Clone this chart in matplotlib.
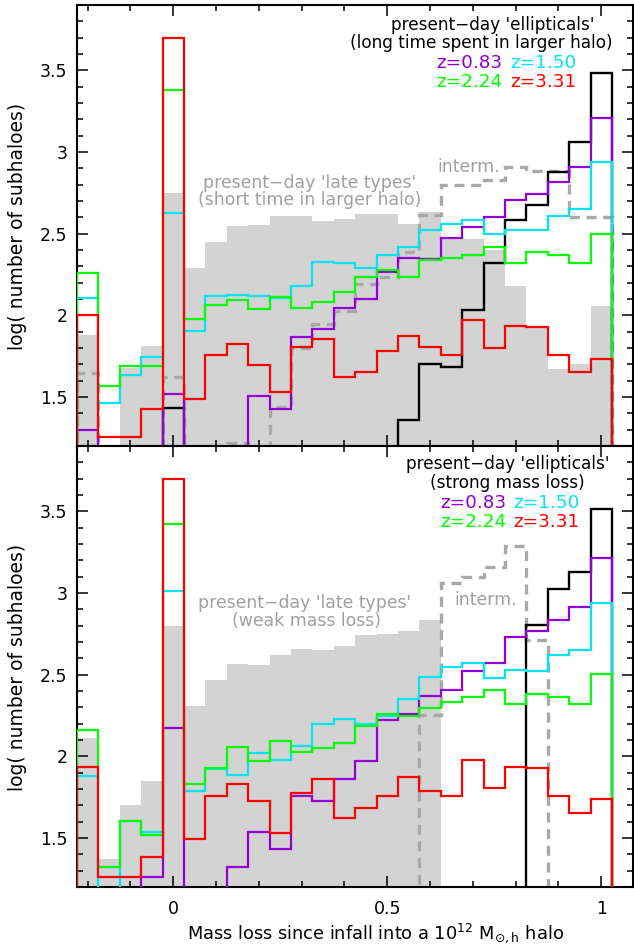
import numpy as np
import matplotlib
matplotlib.use("Agg")
import matplotlib.pyplot as plt
from matplotlib.ticker import MultipleLocator

# ---------------- data (log number of subhaloes per mass-loss bin) ----------------
bin_centers = [-0.20, -0.15, -0.10, -0.05, 0.00, 0.05, 0.10, 0.15, 0.20, 0.25,
               0.30, 0.35, 0.40, 0.45, 0.50, 0.55, 0.60, 0.65, 0.70, 0.75,
               0.80, 0.85, 0.90, 0.95, 1.00]
bin_width = 0.05

# upper panel: time spent in larger halo
up_late = [1.88, 0.0, 1.68, 1.81, 2.75, 2.29, 2.45, 2.545, 2.55, 2.61, 2.61, 2.58, 2.59,
           2.62, 2.62, 2.56, 2.63, 2.47, 2.47, 2.40, 2.18, 1.93, 1.67, 1.70, 2.055]
up_interm = [1.645, 0, 0, 0, 1.62, 0, 0, 1.22, 0, 1.44, 1.80, 1.945, 2.026, 2.194, 2.234,
             2.388, 2.612, 2.796, 2.796, 2.826, 2.908, 2.884, 2.884, 2.602, 2.602]
up_ell = [0, 0, 0, 0, 1.43, 0, 0, 0, 0, 0, 0, 0, 0, 0, 0, 1.361, 1.704, 1.684, 2.035,
          2.32, 2.586, 2.678, 2.878, 3.061, 3.484]
up_z083 = [1.30, 0, 0, 0, 1.52, 0, 0, 0, 1.505, 1.428, 1.868, 1.914, 2.045, 2.10, 2.263,
           2.352, 2.345, 2.472, 2.541, 2.604, 2.708, 2.743, 2.816, 2.908, 3.21]
up_z150 = [2.108, 1.464, 1.637, 1.746, 2.628, 1.902, 2.116, 2.124, 2.116, 2.106, 2.182,
           2.324, 2.318, 2.29, 2.367, 2.418, 2.52, 2.561, 2.582, 2.50, 2.52, 2.52, 2.61,
           2.653, 2.939]
up_z224 = [2.259, 1.567, 1.69, 1.69, 3.38, 1.978, 2.061, 2.096, 2.036, 2.112, 2.046,
           2.081, 2.14, 2.236, 2.28, 2.236, 2.338, 2.353, 2.368, 2.416, 2.32, 2.388,
           2.368, 2.32, 2.497]
up_z331 = [2.0, 1.255, 1.255, 1.428, 3.695, 1.49, 1.76, 1.825, 1.697, 1.533, 1.804,
           1.857, 1.624, 1.651, 1.78, 1.873, 1.804, 1.755, 1.973, 1.798, 1.934, 1.929,
           1.755, 1.653, 1.735]

# lower panel: mass loss
lo_late = [2.11, 1.37, 1.70, 1.85, 2.80, 2.307, 2.466, 2.564, 2.558, 2.619, 2.66, 2.65,
           2.674, 2.741, 2.75, 2.77, 2.833, 0, 0, 0, 0, 0, 0, 0, 0]
lo_interm = [0, 0, 0, 0, 0, 0, 0, 0, 0, 0, 0, 0, 0, 0, 0, 0,
             2.252, 3.062, 3.098, 3.16, 3.286, 2.711, 0, 0, 0]
lo_ell = [0, 0, 0, 0, 0, 0, 0, 0, 0, 0, 0, 0, 0, 0, 0, 0, 0, 0, 0, 0, 0,
          2.803, 3.024, 3.129, 3.516]
lo_z083 = [0, 0, 0, 1.26, 2.175, 0, 0, 1.325, 1.534, 1.435, 1.757, 1.726, 1.86, 1.973,
           2.222, 2.262, 2.368, 2.409, 2.521, 2.572, 2.731, 2.77, 2.833, 2.915, 3.212]
lo_z150 = [1.881, 0, 1.604, 1.535, 3.01, 1.787, 1.925, 1.885, 2.023, 1.975, 2.061, 2.195,
           2.23, 2.195, 2.246, 2.348, 2.483, 2.548, 2.572, 2.477, 2.528, 2.521, 2.619,
           2.654, 2.94]
lo_z224 = [2.161, 1.325, 1.604, 1.518, 3.424, 1.83, 1.926, 2.059, 1.971, 2.093, 2.024,
           2.048, 2.081, 2.187, 2.262, 2.246, 2.293, 2.334, 2.364, 2.409, 2.32, 2.381,
           2.364, 2.32, 2.503]
lo_z331 = [1.932, 1.26, 1.26, 1.382, 3.695, 1.494, 1.757, 1.828, 1.726, 1.533, 1.777,
           1.859, 1.624, 1.681, 1.757, 1.875, 1.789, 1.757, 1.977, 1.804, 1.936, 1.93,
           1.757, 1.655, 1.737]

z_labels = ["z=0.83", "z=1.50", "z=2.24", "z=3.31"]
z_colors = ["#9400d3", "#00e5ee", "#00ff00", "#ff0000"]
x_ticks = [0, 0.5, 1]
y_ticks = [1.5, 2, 2.5, 3, 3.5]
y_ticklabels = ["1.5", "2", "2.5", "3", "3.5"]

# ---------------- figure ----------------
W, H = 634, 950
fig = plt.figure(figsize=(W / 100, H / 100), dpi=100)
plt.rcParams['font.family'] = ['DejaVu Sans']

edges = np.concatenate([np.array(bin_centers) - bin_width / 2,
                        [bin_centers[-1] + bin_width / 2]])

def px(x, y):
    return x / W, 1 - y / H

left, right = 77, 632.5
ax1 = fig.add_axes([left / W, 1 - 446 / H, (right - left) / W, 441 / H])
ax2 = fig.add_axes([left / W, 1 - 887 / H, (right - left) / W, 441 / H])

gray_fill = "#d3d3d3"
gray_dash = "#a9a9a9"
gray_text = "#a0a0a0"

def draw(ax, late, interm, ell, zs):
    ax.stairs(late, edges, baseline=0, fill=True, color=gray_fill, lw=0, zorder=1)
    ax.stairs(interm, edges, baseline=0, color=gray_dash, lw=2.4,
              linestyle=(0, (3, 2)), zorder=2)
    ax.stairs(ell, edges, baseline=0, color="black", lw=1.7, zorder=3)
    for vals, col, zo in zip(zs, z_colors, [4, 5, 6, 7]):
        ax.stairs(vals, edges, baseline=0, color=col, lw=1.6, zorder=zo)
    ax.set_xlim(-0.225, 1.073)
    ax.set_ylim(1.2, 3.9)
    ax.xaxis.set_major_locator(MultipleLocator(0.5))
    ax.xaxis.set_minor_locator(MultipleLocator(0.1))
    ax.set_yticks(y_ticks)
    ax.set_yticklabels(y_ticklabels)
    ax.yaxis.set_minor_locator(MultipleLocator(0.1))
    ax.tick_params(which="both", direction="in", top=True, right=True,
                   width=1.1, labelsize=12.5, pad=7)
    ax.tick_params(which="major", length=8)
    ax.tick_params(which="minor", length=4.5)
    for s in ax.spines.values():
        s.set_linewidth(1.5)

draw(ax1, up_late, up_interm, up_ell, [up_z083, up_z150, up_z224, up_z331])
draw(ax2, lo_late, lo_interm, lo_ell, [lo_z083, lo_z150, lo_z224, lo_z331])
ax1.tick_params(labelbottom=False)
ax2.set_xticks(x_ticks)
ax2.set_xticklabels(["0", "0.5", "1"])
ax2.tick_params(axis="x", pad=9)

fs = 12.2
zfs = 13.2
gfs = 12.4
def t(x, y, s, color="black", size=fs):
    fig.text(*px(x, y), s, color=color, fontsize=size, ha="center", va="center")

# upper panel annotations
t(493, 25, "present\u2212day 'ellipticals'")
t(481, 43, "(long time spent in larger halo)")
t(469, 63, z_labels[0], z_colors[0], zfs); t(543, 63, z_labels[1], z_colors[1], zfs)
t(469, 82, z_labels[2], z_colors[2], zfs); t(543, 82, z_labels[3], z_colors[3], zfs)
t(310, 183, "present\u2212day 'late types'", gray_text, gfs)
t(310, 200, "(short time in larger halo)", gray_text, gfs)
t(469, 167, "interm.", gray_text, gfs)

# lower panel annotations
t(508, 464, "present\u2212day 'ellipticals'")
t(507, 483, "(strong mass loss)")
t(473, 503, z_labels[0], z_colors[0], zfs); t(546, 503, z_labels[1], z_colors[1], zfs)
t(473, 522, z_labels[2], z_colors[2], zfs); t(546, 522, z_labels[3], z_colors[3], zfs)
t(305, 603, "present\u2212day 'late types'", gray_text, gfs)
t(306, 621, "(weak mass loss)", gray_text, gfs)
t(486, 600, "interm.", gray_text, gfs)

# axis labels
fig.text(*px(18, 226), "log( number of subhaloes)", rotation=90,
         fontsize=13.5, ha="center", va="center")
fig.text(*px(18, 667), "log( number of subhaloes)", rotation=90,
         fontsize=13.5, ha="center", va="center")
fig.text(*px(375, 933), r"Mass loss since infall into a 10$^{\mathregular{12}}$ M$_{\mathregular{\odot,h}}$ halo",
         fontsize=12.8, ha="center", va="center")

fig.savefig("out.png", dpi=100)
